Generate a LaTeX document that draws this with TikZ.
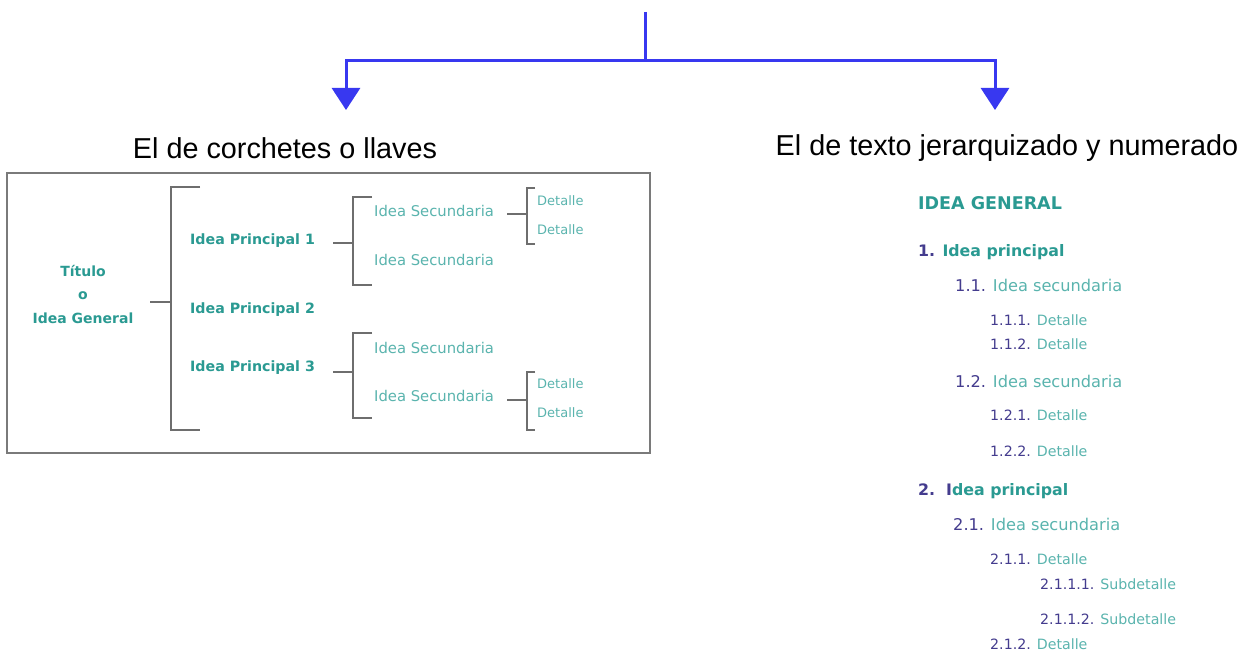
\documentclass[tikz,border=0pt]{standalone}
\usepackage{fontspec}
\setmainfont{Liberation Sans}
\newfontfamily\cf{DejaVu Sans}
\usetikzlibrary{arrows.meta}
\definecolor{tealB}{HTML}{2A9A92}
\definecolor{tealL}{HTML}{5AB4AE}
\definecolor{numc}{HTML}{443C8E}
\definecolor{arrc}{HTML}{3838F0}
\definecolor{brk}{HTML}{6E6E6E}
\definecolor{boxc}{HTML}{7A7A7A}
\tikzset{
  head/.style={font=\fontsize{28.8}{32}\selectfont, text=black, inner sep=0pt},
  bld/.style={font=\cf\bfseries\fontsize{14.2}{16}\selectfont, text=tealB, inner sep=0pt, anchor=west},
  lgt/.style={font=\cf\fontsize{14.8}{17}\selectfont, text=tealL, inner sep=0pt, anchor=west},
  det/.style={font=\cf\fontsize{13}{15}\selectfont, text=tealL, inner sep=0pt, anchor=west},
  brkline/.style={draw=brk, line width=1.3pt},
  arr/.style={draw=arrc, line width=3pt, -{Triangle[width=28pt,length=22pt]}},
  rg/.style={font=\cf\bfseries\fontsize{15.8}{18}\selectfont, text=tealB, inner sep=0pt, anchor=west},
  rs/.style={font=\cf\fontsize{16.2}{18}\selectfont, text=tealL, inner sep=0pt, anchor=west},
  rd/.style={font=\cf\fontsize{14.2}{16}\selectfont, text=tealL, inner sep=0pt, anchor=west},
}
\newcommand{\nm}[1]{\textcolor{numc}{#1}}
\begin{document}
\begin{tikzpicture}[x=1pt,y=-1pt]
\useasboundingbox[fill=white] (0,0) rectangle (1240,655);
% top arrows
\coordinate (top) at (645,12);
\coordinate (junc) at (645,61);
\coordinate (la) at (346,110);
\coordinate (ra) at (995,110);
\draw[draw=arrc, line width=3pt] (top) -- (junc);
\draw[arr] (junc) -| (la);
\draw[arr] (junc) -| (ra);
% headings
\node[head] (h1) at (285,148) {El de corchetes o llaves};
\node[head] (h2) at (1007,148) {El de texto jerarquizado y numerado};
% box
\draw[draw=boxc, line width=1.2pt] (7,173) rectangle (650,453);
% left diagram
\node[font=\cf\bfseries\fontsize{14}{23.5}\selectfont, text=tealB, align=center, inner sep=0pt] (tit) at (83,294) {Título\\o\\Idea General};
\node[bld] (p1) at (190,241) {Idea Principal 1};
\node[bld] (p2) at (190,310) {Idea Principal 2};
\node[bld] (p3) at (190,368) {Idea Principal 3};
\node[lgt] (s1) at (374,211) {Idea Secundaria};
\node[lgt] (s2) at (374,260) {Idea Secundaria};
\node[lgt] (s3) at (374,348) {Idea Secundaria};
\node[lgt] (s4) at (374,396) {Idea Secundaria};
\node[det] (d1) at (537,201) {Detalle};
\node[det] (d2) at (537,230) {Detalle};
\node[det] (d3) at (537,384) {Detalle};
\node[det] (d4) at (537,413) {Detalle};
% main bracket
\draw[brkline] (150,302) -- (171,302);
\draw[brkline] (200,187) -- (171,187) -- (171,430) -- (200,430);
% sub brackets
\draw[brkline] (333,243) -- (353,243);
\draw[brkline] (372,197) -- (353,197) -- (353,285) -- (372,285);
\draw[brkline] (333,372) -- (353,372);
\draw[brkline] (372,333) -- (353,333) -- (353,418) -- (372,418);
% detail brackets
\draw[brkline] (507,214) -- (527,214);
\draw[brkline] (535,188) -- (527,188) -- (527,244) -- (535,244);
\draw[brkline] (507,400) -- (527,400);
\draw[brkline] (535,372) -- (527,372) -- (527,430) -- (535,430);
% right column
\node[rg, font=\cf\bfseries\fontsize{17.5}{20}\selectfont] (ig) at (918,203) {IDEA GENERAL};
\node[rg] (r1) at (918,252) {\nm{1.} Idea principal};
\node[rs] (r11) at (955,285) {\nm{1.1.} Idea secundaria};
\node[rd] (r111) at (990,320) {\nm{1.1.1.} Detalle};
\node[rd] (r112) at (990,344) {\nm{1.1.2.} Detalle};
\node[rs] (r12) at (955,381) {\nm{1.2.} Idea secundaria};
\node[rd] (r121) at (990,415) {\nm{1.2.1.} Detalle};
\node[rd] (r122) at (990,451) {\nm{1.2.2.} Detalle};
\node[rg] (r2) at (918,491) {\nm{2.\ \ I}dea principal};
\node[rs] (r21) at (953,524) {\nm{2.1.} Idea secundaria};
\node[rd] (r211) at (990,559) {\nm{2.1.1.} Detalle};
\node[rd] (r2111) at (1040,584) {\nm{2.1.1.1.} Subdetalle};
\node[rd] (r2112) at (1040,619) {\nm{2.1.1.2.} Subdetalle};
\node[rd] (r212) at (990,644) {\nm{2.1.2.} Detalle};
\end{tikzpicture}
\end{document}
